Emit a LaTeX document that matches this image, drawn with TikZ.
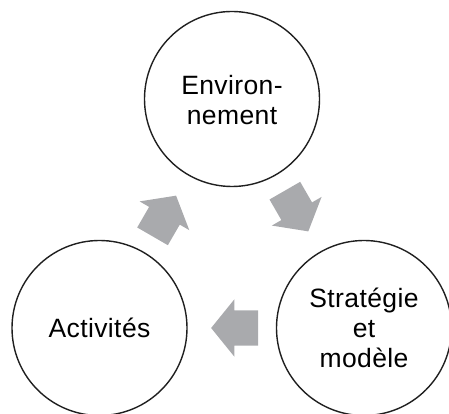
\documentclass[tikz,border=0pt]{standalone}
\usepackage{fontspec}
\setmainfont{Liberation Sans}[LetterSpace=1.5]
\usetikzlibrary{shapes.arrows}
\definecolor{arrowgray}{RGB}{169,170,173}

\begin{document}
\begin{tikzpicture}[x=1pt, y=1pt,
    ring/.style ={circle, draw=black!88, line width=1.4pt, minimum size=175pt, inner sep=0pt},
    caption/.style ={align=center, font=\fontsize{26.5}{30}\selectfont, inner sep=0pt},
    flow/.style ={single arrow, fill=arrowgray, draw=none, inner xsep=0pt, inner ysep=17.5pt,
      minimum height=47pt, minimum width=57pt, sloped, allow upside down,
      single arrow head extend=11pt, single arrow tip angle=102}]
   \useasboundingbox (0,0) rectangle (449,414);
   \clip (0,0) rectangle (449,414);
   \node[ring] (env) at (232,315)  {};
   \node[ring] (act) at (99.5,86)  {};
   \node[ring] (strat) at (364,86)  {};

   \node[caption] (envtext) at ([yshift=-1pt]env)  {Environ-\\nement};
   \node[caption] (acttext) at (act)  {Activités};
   \node[caption] (strattext) at (strat)  {Stratégie\\et\\modèle};

   \path (act) -- node[flow, pos=0.386] (up) {} (env);
   \path (env) -- node[flow, pos=0.386] (down) {} (strat);
   \path (strat) -- node[flow, pos=0.386] (back) {} (act);
 \end{tikzpicture}
\end{document}
